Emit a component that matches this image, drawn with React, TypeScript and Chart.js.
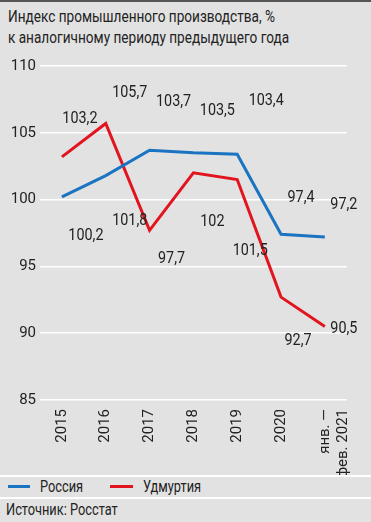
import React, { useEffect, useRef } from "react";
import { Chart, registerables } from "chart.js";

Chart.register(...registerables);

const categories: (string | string[])[] = ["2015", "2016", "2017", "2018", "2019", "2020", ["янв. —", "фев. 2021"]];
const russia = [100.2, 101.8, 103.7, 103.5, 103.4, 97.4, 97.2];
const udmurtia = [103.2, 105.7, 97.7, 102.0, 101.5, 92.7, 90.5];
const yTicks = { min: 85, max: 110, step: 5 };
const seriesNames = ["Россия", "Удмуртия"];
const titleLines = ["Индекс промышленного производства, %", "к аналогичному периоду предыдущего года"];
const sourceText = "Источник: Росстат";

// label placement offsets (dx, dy) relative to each point, in px
const russiaLabelOffsets: [number, number][] = [[24, 39], [24, 45], [24, -48], [24, -42], [29, -53], [20, -36], [19, -32]];
const udmurtiaLabelOffsets: [number, number][] = [[18, -38], [24, -31], [22, 29], [19, 49], [13, 71], [17, 44], [19, 2]];

const FONT = "Roboto, 'Liberation Sans', sans-serif";
const BLUE = "#1a74c2";
const RED = "#e2141d";
const TEXT = "#222222";
const BG = "#e2e2e2";

const fmt = (v: number) => String(v).replace(".", ",");

export default function App() {
  const ref = useRef<HTMLCanvasElement | null>(null);

  useEffect(() => {
    if (!ref.current) return;
    const offsets = [russiaLabelOffsets, udmurtiaLabelOffsets];
    const labelPlugin = {
      id: "valueLabels",
      afterDatasetsDraw(chart: any) {
        const ctx = chart.ctx;
        chart.data.datasets.forEach((ds: any, di: number) => {
          const meta = chart.getDatasetMeta(di);
          meta.data.forEach((pt: any, i: number) => {
            const [dx, dy] = offsets[di][i];
            ctx.save();
            ctx.font = `16.5px ${FONT}`;
            ctx.fillStyle = TEXT;
            ctx.textAlign = "center";
            ctx.textBaseline = "middle";
            ctx.translate(pt.x + dx, pt.y + dy);
            ctx.scale(0.87, 1);
            ctx.fillText(fmt(ds.data[i]), 0, 0);
            ctx.restore();
          });
        });
      },
    };
    const chart = new Chart(ref.current, {
      type: "line",
      data: {
        labels: categories,
        datasets: [
          { label: seriesNames[0], data: russia, borderColor: BLUE, backgroundColor: BLUE, borderWidth: 3, pointRadius: 0, tension: 0, borderJoinStyle: "miter" },
          { label: seriesNames[1], data: udmurtia, borderColor: RED, backgroundColor: RED, borderWidth: 3, pointRadius: 0, tension: 0, borderJoinStyle: "miter" },
        ],
      },
      options: {
        animation: false,
        responsive: false,
        maintainAspectRatio: false,
        layout: { padding: { top: 0, right: 16, left: 0, bottom: 0 } },
        plugins: { legend: { display: false }, tooltip: { enabled: false }, title: { display: false } },
        scales: {
          x: {
            offset: true,
            grid: { display: false, drawTicks: false },
            border: { display: false },
            ticks: { color: TEXT, font: { family: FONT, size: 15 }, minRotation: 90, maxRotation: 90, padding: 9, autoSkip: false },
            afterFit: (s: any) => { s.height = 75; },
          },
          y: {
            min: yTicks.min,
            max: yTicks.max,
            grid: { color: "#ffffff", lineWidth: 1.5, drawTicks: false },
            border: { display: false },
            ticks: { stepSize: yTicks.step, color: TEXT, font: { family: FONT, size: 15 }, padding: 4 },
            afterFit: (s: any) => { s.width = 40; },
          },
        },
      },
      plugins: [labelPlugin],
    } as any);
    return () => chart.destroy();
  }, []);

  const condensed = (sx: number): React.CSSProperties => ({ transform: `scaleX(${sx})`, transformOrigin: "left center", whiteSpace: "nowrap" });

  return (
    <div style={{ position: "absolute", left: 0, top: 0, width: 371, height: 522, background: BG, overflow: "hidden", fontFamily: FONT, color: TEXT }}>
      <div style={{ position: "absolute", left: 0, top: 0, width: 371, height: 2, background: "#555" }} />
      <div style={{ position: "absolute", left: 8, top: 6, fontSize: 17, lineHeight: "21px" }}>
        <div style={condensed(0.8)}>{titleLines[0]}</div>
        <div style={condensed(0.8)}>{titleLines[1]}</div>
      </div>
      <canvas ref={ref} width={371} height={422} style={{ position: "absolute", left: 0, top: 53, width: 371, height: 422 }} />
      <div style={{ position: "absolute", left: 0, top: 475, width: 371, height: 2, background: "#fff" }} />
      <div style={{ position: "absolute", left: 8, top: 485, width: 22, height: 3, background: BLUE }} />
      <div style={{ position: "absolute", left: 40, top: 477, fontSize: 16, lineHeight: "20px", ...condensed(0.8) }}>{seriesNames[0]}</div>
      <div style={{ position: "absolute", left: 110, top: 485, width: 23, height: 3, background: RED }} />
      <div style={{ position: "absolute", left: 143, top: 477, fontSize: 16, lineHeight: "20px", ...condensed(0.8) }}>{seriesNames[1]}</div>
      <div style={{ position: "absolute", left: 0, top: 497, width: 371, height: 2, background: "#fff" }} />
      <div style={{ position: "absolute", left: 6, top: 500, fontSize: 16, lineHeight: "20px", ...condensed(0.8) }}>{sourceText}</div>
    </div>
  );
}
